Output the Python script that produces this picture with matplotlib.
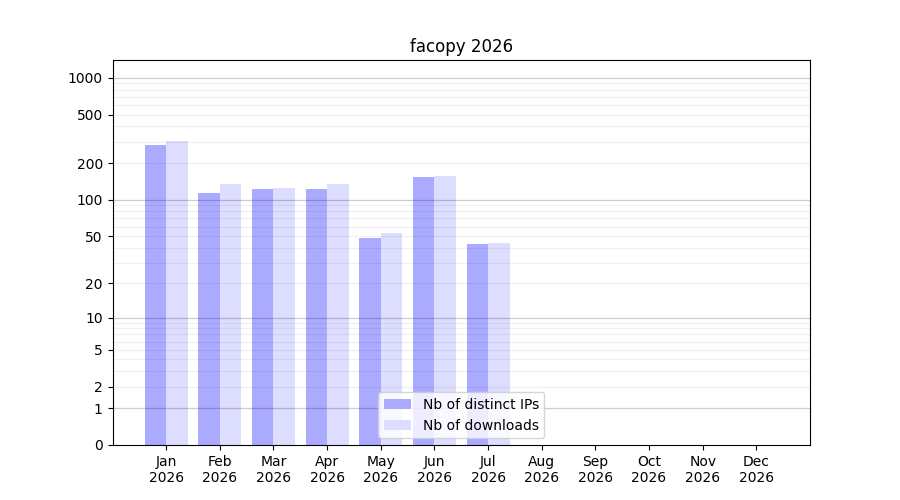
import numpy as np
import matplotlib
matplotlib.use('Agg')
import matplotlib.pyplot as plt

months = ['Jan', 'Feb', 'Mar', 'Apr', 'May', 'Jun', 'Jul', 'Aug', 'Sep', 'Oct', 'Nov', 'Dec']
year = 2026
distinct_ips = [283, 114, 123, 123, 48, 155, 43, 0, 0, 0, 0, 0]
downloads = [305, 136, 126, 136, 53, 158, 44, 0, 0, 0, 0, 0]
ytick_values = [0, 1, 2, 5, 10, 20, 50, 100, 200, 500, 1000]

fig, ax = plt.subplots(figsize=(9, 5), dpi=100)

# log(1+x) scale so that zero months can still be shown
ax.set_yscale('function', functions=(lambda v: np.log10(1 + np.maximum(v, 0)),
                                     lambda v: 10 ** v - 1))

x = np.arange(len(months))
w = 0.4
ax.bar(x - w / 2, distinct_ips, w, color='#aaaaff', label='Nb of distinct IPs')
ax.bar(x + w / 2, downloads, w, color='#ddddff', label='Nb of downloads')

# grid: dark at each decade, faint in between
for k in range(3):
    for m in range(1, 10):
        v = m * 10 ** k
        if m == 1:
            ax.axhline(v, color='k', alpha=0.2, lw=0.9, zorder=1.5)
        else:
            ax.axhline(v, color='k', alpha=0.06, lw=0.9, zorder=1.5)
ax.axhline(1000, color='k', alpha=0.2, lw=0.9, zorder=1.5)

ax.set_yticks(ytick_values)
ax.set_yticklabels([str(v) for v in ytick_values])
ax.yaxis.set_minor_locator(matplotlib.ticker.NullLocator())
ax.set_ylim(0, 1400)

ax.set_xticks(x)
ax.set_xticklabels(['%s\n%d' % (m, year) for m in months])
ax.set_xlim(-1, 12)

ax.set_title('facopy 2026')
ax.legend(loc='lower center')

plt.savefig('out.png', dpi=100)
